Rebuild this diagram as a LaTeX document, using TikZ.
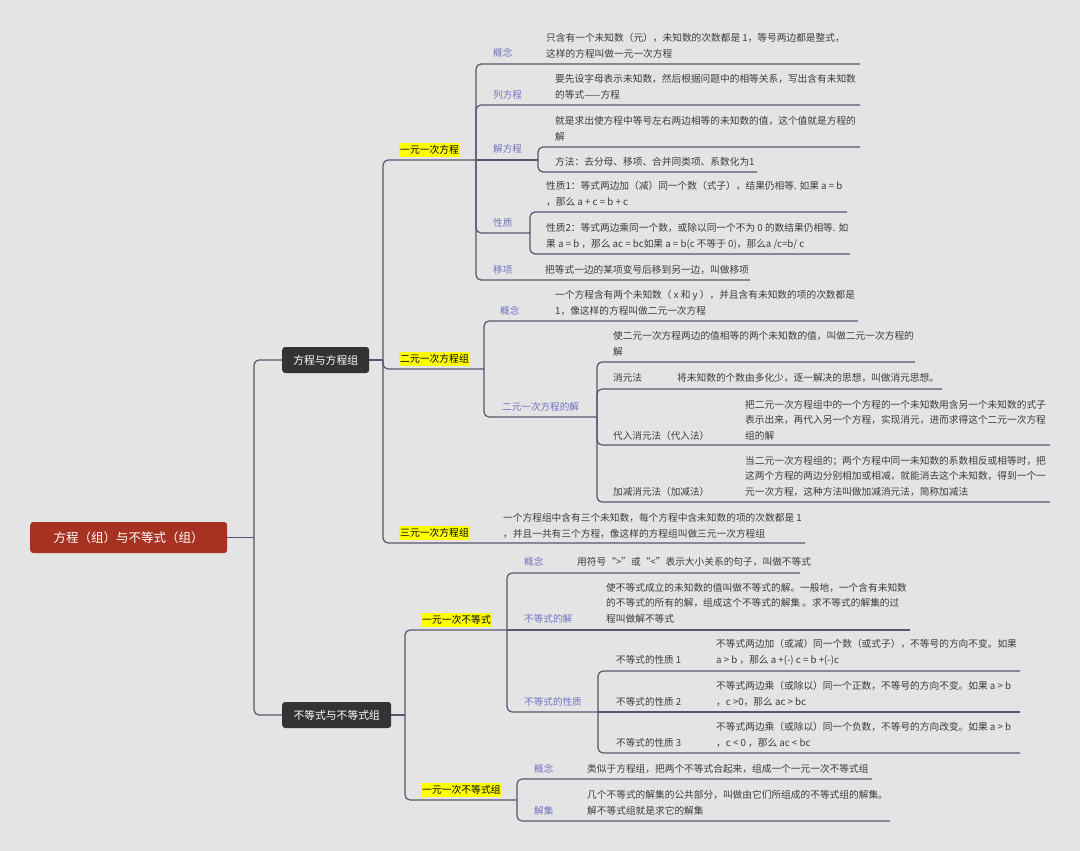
\documentclass[tikz,border=0pt]{standalone}
\usepackage{fontspec}
\newfontfamily\cjk{Noto Sans CJK SC}
\definecolor{bgc}{HTML}{E4E4E4}
\definecolor{linec}{HTML}{56566E}
\definecolor{textc}{HTML}{3C3C3C}
\definecolor{lblc}{HTML}{7272C4}
\definecolor{rootc}{HTML}{A83221}
\definecolor{boxc}{HTML}{333333}
\definecolor{hlc}{HTML}{FFFF00}
\begin{document}
\begin{tikzpicture}[x=1pt,y=-1pt,
  conn/.style={draw=linec, line width=1.2pt, rounded corners=5pt},
  txt/.style={anchor=base west, inner sep=0pt, align=left, text=textc, font=\cjk\fontsize{9.7}{15.7}\selectfont},
  lbl/.style={anchor=base west, inner sep=0pt, text=lblc, font=\cjk\fontsize{9.6}{12}\selectfont},
  sublbl/.style={anchor=base west, inner sep=0pt, text=textc, font=\cjk\fontsize{9.6}{12}\selectfont},
  hl/.style={anchor=base west, inner xsep=1pt, inner ysep=2.6pt, fill=hlc, text=black, font=\cjk\fontsize{9.8}{12}\selectfont},
  darkbox/.style={anchor=west, fill=boxc, text=white, rounded corners=3pt, minimum height=26pt, inner sep=0pt, font=\cjk\fontsize{10.8}{13}\selectfont},
  rootbox/.style={anchor=west, fill=rootc, text=white, rounded corners=3pt, minimum height=31pt, minimum width=197pt, inner sep=0pt, font=\cjk\fontsize{12.5}{15}\selectfont}]
\fill[bgc] (0,0) rectangle (1080,851);
\useasboundingbox (0,0) rectangle (1080,851);

% ---------- main nodes ----------
\node[rootbox] (root) at (30,537.5) {方程（组）与不等式（组）};
\node[darkbox, minimum width=87pt] (b1) at (282,360) {方程与方程组};
\node[darkbox, minimum width=109pt] (b2) at (282,715) {不等式与不等式组};

\coordinate (rj) at (254,537.5);
\draw[conn] (root.east) -- (rj);
\draw[conn] (rj) |- (b1.west);
\draw[conn] (rj) |- (b2.west);

% ---------- branch 1 ----------
\coordinate (j1) at (383,360);
\coordinate (e1) at (476,160);
\coordinate (e2) at (484,369);
\coordinate (e3) at (805,543);
\draw[conn] (b1.east) -- (j1);
\draw[conn] (j1) |- (e1);
\draw[conn] (j1) |- (e2);
\draw[conn] (j1) |- (e3);

\node[hl] (h1) at (399,153.6) {一元一次方程};
\node[hl] (h2) at (399,362.6) {二元一次方程组};
\node[hl] (h3) at (399,536.6) {三元一次方程组};

% 一元一次方程 children
\coordinate (u11) at (860,64);
\coordinate (u12) at (860,105);
\coordinate (e13) at (538,160);
\coordinate (u131) at (860,147);
\coordinate (u132) at (757,172);
\coordinate (e14) at (530,233);
\coordinate (u141) at (847,212);
\coordinate (u142) at (850,254);
\coordinate (u15) at (750,280);
\draw[conn] (e1) |- (u11);
\draw[conn] (e1) |- (u12);
\draw[conn] (e1) -- (e13);
\draw[conn] (e13) |- (u131);
\draw[conn] (e13) |- (u132);
\draw[conn] (e1) |- (e14);
\draw[conn] (e14) |- (u141);
\draw[conn] (e14) |- (u142);
\draw[conn] (e1) |- (u15);

\node[lbl] (l11) at (493,56.6) {概念};
\node[lbl] (l12) at (493,98.6) {列方程};
\node[lbl] (l13) at (493,152.6) {解方程};
\node[lbl] (l14) at (493,226.6) {性质};
\node[lbl] (l15) at (493,273.6) {移项};

\node[txt] (t11) at (546,57.6) {只含有一个未知数（元），未知数的次数都是 1，等号两边都是整式，\\这样的方程叫做一元一次方程};
\node[txt] (t12) at (555,98.6) {要先设字母表示未知数，然后根据问题中的相等关系，写出含有未知数\\的等式——方程};
\node[txt] (t131) at (555,140.6) {就是求出使方程中等号左右两边相等的未知数的值，这个值就是方程的\\解};
\node[txt] (t132) at (555,165.6) {方法：去分母、移项、合并同类项、系数化为1};
\node[txt] (t141) at (546,205.6) {性质1：等式两边加（减）同一个数（式子），结果仍相等. 如果 a = b\\，那么 a + c = b + c};
\node[txt] (t142) at (546,247.6) {性质2：等式两边乘同一个数，或除以同一个不为 0 的数结果仍相等. 如\\果 a = b ，那么 ac = bc如果 a = b(c 不等于 0)，那么a /c=b/ c};
\node[txt] (t15) at (545,273.6) {把等式一边的某项变号后移到另一边，叫做移项};

% 二元一次方程组 children
\coordinate (u21) at (858,321);
\coordinate (e22) at (597,417);
\coordinate (u221) at (915,362);
\coordinate (u222) at (942,389);
\coordinate (u223) at (1050,445);
\coordinate (u224) at (1050,502);
\draw[conn] (e2) |- (u21);
\draw[conn] (e2) |- (e22);
\draw[conn] (e22) |- (u221);
\draw[conn] (e22) |- (u222);
\draw[conn] (e22) |- (u223);
\draw[conn] (e22) |- (u224);

\node[lbl] (l21) at (500,314.6) {概念};
\node[lbl] (l22) at (502,410.6) {二元一次方程的解};
\node[sublbl] (l222) at (613,381.6) {消元法};
\node[sublbl] (l223) at (613,439.6) {代入消元法（代入法）};
\node[sublbl] (l224) at (613,495.6) {加减消元法（加减法）};

\node[txt] (t21) at (555,314.6) {一个方程含有两个未知数（ x 和 y ），并且含有未知数的项的次数都是\\1，像这样的方程叫做二元一次方程};
\node[txt] (t221) at (613,355.6) {使二元一次方程两边的值相等的两个未知数的值，叫做二元一次方程的\\解};
\node[txt] (t222) at (677,381.6) {将未知数的个数由多化少，逐一解决的思想，叫做消元思想。};
\node[txt] (t223) at (745,439.6) {把二元一次方程组中的一个方程的一个未知数用含另一个未知数的式子\\表示出来，再代入另一个方程，实现消元，进而求得这个二元一次方程\\组的解};
\node[txt] (t224) at (745,495.6) {当二元一次方程组的；两个方程中同一未知数的系数相反或相等时，把\\这两个方程的两边分别相加或相减，就能消去这个未知数，得到一个一\\元一次方程，这种方法叫做加减消元法，简称加减法};

% 三元一次方程组
\node[txt] (t3) at (503,537.6) {一个方程组中含有三个未知数，每个方程中含未知数的项的次数都是 1\\，并且一共有三个方程，像这样的方程组叫做三元一次方程组};

% ---------- branch 2 ----------
\coordinate (j2) at (405,715);
\coordinate (f1) at (507,630);
\coordinate (f2) at (517,800);
\draw[conn] (b2.east) -- (j2);
\draw[conn] (j2) |- (f1);
\draw[conn] (j2) |- (f2);

\node[hl] (h4) at (421,623.6) {一元一次不等式};
\node[hl] (h5) at (421,793.6) {一元一次不等式组};

\coordinate (v11) at (800,573);
\coordinate (v12) at (910,630);
\coordinate (f13) at (598,712);
\coordinate (v131) at (1020,671);
\coordinate (v132) at (1020,712);
\coordinate (v133) at (1020,753);
\draw[conn] (f1) |- (v11);
\draw[conn] (f1) -- (v12);
\draw[conn] (f1) |- (f13);
\draw[conn] (f13) |- (v131);
\draw[conn] (f13) -- (v132);
\draw[conn] (f13) |- (v133);

\node[lbl] (l41) at (524,565.6) {概念};
\node[lbl] (l42) at (524,622.6) {不等式的解};
\node[lbl] (l43) at (524,705.6) {不等式的性质};
\node[sublbl] (l431) at (616,663.6) {不等式的性质 1};
\node[sublbl] (l432) at (616,705.6) {不等式的性质 2};
\node[sublbl] (l433) at (616,746.6) {不等式的性质 3};

\node[txt] (t41) at (577,565.6) {用符号“>”或“<”表示大小关系的句子，叫做不等式};
\node[txt] (t42) at (606,622.6) {使不等式成立的未知数的值叫做不等式的解。一般地，一个含有未知数\\的不等式的所有的解，组成这个不等式的解集 。求不等式的解集的过\\程叫做解不等式};
\node[txt] (t431) at (716,663.6) {不等式两边加（或减）同一个数（或式子），不等号的方向不变。如果\\a > b ，那么 a +(-) c = b +(-)c};
\node[txt] (t432) at (716,705.6) {不等式两边乘（或除以）同一个正数，不等号的方向不变。如果 a > b\\，c >0，那么 ac > bc};
\node[txt] (t433) at (716,746.6) {不等式两边乘（或除以）同一个负数，不等号的方向改变。如果 a > b\\，c < 0 ，那么 ac < bc};

\coordinate (v21) at (872,779);
\coordinate (v22) at (890,821);
\draw[conn] (f2) |- (v21);
\draw[conn] (f2) |- (v22);

\node[lbl] (l51) at (534,772.6) {概念};
\node[lbl] (l52) at (534,814.6) {解集};
\node[txt] (t51) at (587,772.6) {类似于方程组，把两个不等式合起来，组成一个一元一次不等式组};
\node[txt] (t52) at (587,814.6) {几个不等式的解集的公共部分，叫做由它们所组成的不等式组的解集。\\解不等式组就是求它的解集};
\end{tikzpicture}
\end{document}
